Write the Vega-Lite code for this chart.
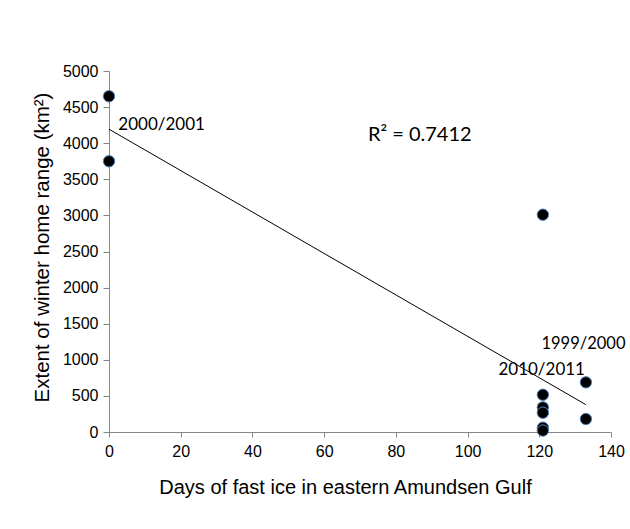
{
  "$schema": "https://vega.github.io/schema/vega-lite/v6.json",
  "width": 502,
  "height": 361,
  "autosize": "none",
  "padding": {"left": 109, "top": 71, "right": 19, "bottom": 97},
  "background": "white",
  "config": {
    "view": {"stroke": null},
    "font": "Liberation Sans"
  },
  "datasets": {
    "pts": [
      {"days": 0, "range": 4650},
      {"days": 0, "range": 3750},
      {"days": 121, "range": 3010},
      {"days": 121, "range": 516},
      {"days": 121, "range": 341},
      {"days": 121, "range": 267},
      {"days": 121, "range": 60},
      {"days": 121, "range": 20},
      {"days": 133, "range": 688},
      {"days": 133, "range": 180}
    ],
    "labels": [
      {"days": 2.6, "range": 4181, "label": "2000/2001", "size": 17},
      {"days": 120.6, "range": 1148, "label": "1999/2000", "size": 16.5},
      {"days": 108.6, "range": 793, "label": "2010/2011", "size": 17},
      {"days": 72.2, "range": 4029, "label": "R² = 0.7412", "size": 20}
    ]
  },
  "encoding": {
    "x": {
      "field": "days", "type": "quantitative",
      "scale": {"domain": [0, 140], "nice": false, "zero": false},
      "axis": {
        "title": "Days of fast ice in eastern Amundsen Gulf",
        "values": [0, 20, 40, 60, 80, 100, 120, 140],
        "labelFlush": false,
        "grid": false,
        "domainColor": "#868686",
        "tickColor": "#868686",
        "tickSize": 5,
        "labelFontSize": 16,
        "labelColor": "black",
        "labelPadding": 6,
        "titleFontSize": 20,
        "titleFontWeight": "normal",
        "titleColor": "black",
        "titlePadding": 18,
        "titleX": 236
      }
    },
    "y": {
      "field": "range", "type": "quantitative",
      "scale": {"domain": [0, 5000], "nice": false, "zero": false},
      "axis": {
        "title": "Extent of winter home range (km²)",
        "values": [0, 500, 1000, 1500, 2000, 2500, 3000, 3500, 4000, 4500, 5000],
        "format": "d",
        "labelFlush": false,
        "grid": false,
        "domainColor": "#868686",
        "tickColor": "#868686",
        "tickSize": 6,
        "labelFontSize": 16,
        "labelColor": "black",
        "labelPadding": 5,
        "titleFontSize": 20.5,
        "titleFontWeight": "normal",
        "titleColor": "black",
        "titlePadding": 10,
        "titleY": 176
      }
    }
  },
  "layer": [
    {
      "data": {"name": "pts"},
      "transform": [{"regression": "range", "on": "days"}],
      "mark": {"type": "line", "color": "black", "strokeWidth": 1}
    },
    {
      "data": {"name": "pts"},
      "mark": {"type": "point", "filled": false, "fill": "black", "stroke": "#4f81bd", "strokeWidth": 1, "size": 130, "opacity": 1, "fillOpacity": 1}
    },
    {
      "data": {"name": "labels"},
      "mark": {"type": "text", "align": "left", "baseline": "alphabetic", "font": "Lato", "color": "black"},
      "encoding": {
        "text": {"field": "label"},
        "size": {"field": "size", "type": "quantitative", "scale": null}
      }
    }
  ]
}
